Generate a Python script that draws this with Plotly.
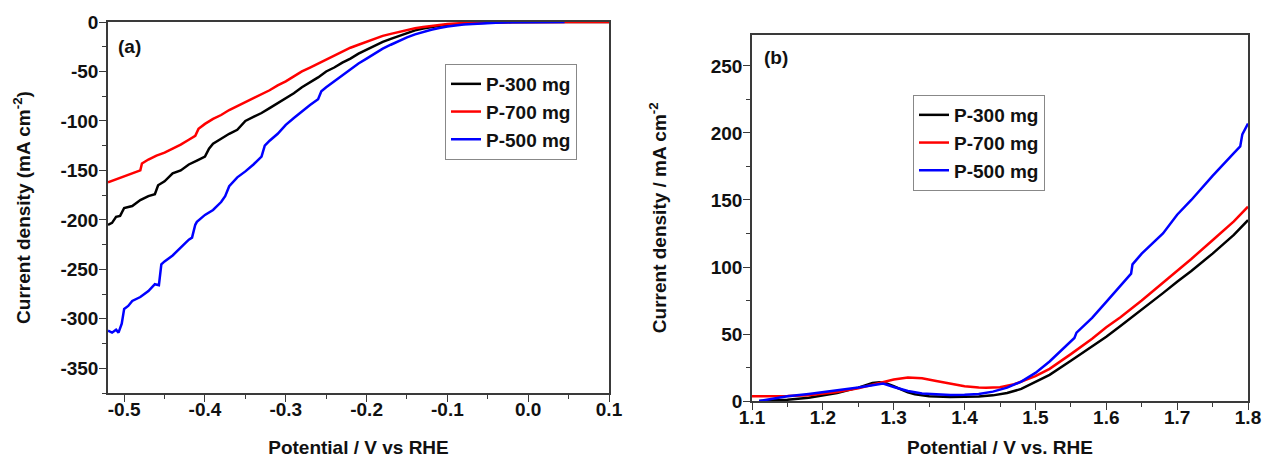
import plotly.graph_objects as go

# ---- Panel (a) data: HER polarization curves ----
a_x_300 = [-0.52, -0.515, -0.51, -0.505, -0.50, -0.49, -0.48, -0.47, -0.462, -0.458, -0.45, -0.44, -0.43, -0.42,
           -0.41, -0.40, -0.395, -0.39, -0.38, -0.37, -0.36, -0.355, -0.35, -0.34, -0.33, -0.32, -0.31, -0.30,
           -0.29, -0.28, -0.27, -0.26, -0.25, -0.24, -0.23, -0.22, -0.21, -0.20, -0.19, -0.18, -0.17, -0.16,
           -0.15, -0.14, -0.13, -0.12, -0.11, -0.10, -0.08, -0.06, -0.04, -0.02, 0.0, 0.05, 0.1]
a_y_300 = [-205, -203, -197, -196, -188, -186, -180, -176, -174, -165, -161, -153, -150, -144,
           -140, -136, -128, -123, -118, -113, -109, -104, -100, -96, -92, -87, -82, -77,
           -72, -66, -61, -56, -50, -46, -41, -37, -32, -28, -24, -20, -17, -14,
           -11, -8.5, -6.5, -5, -3.8, -2.8, -1.6, -0.9, -0.4, -0.15, 0, 0, 0]

a_x_700 = [-0.52, -0.51, -0.50, -0.49, -0.48, -0.478, -0.47, -0.46, -0.45, -0.44, -0.43, -0.42, -0.412,
           -0.408, -0.40, -0.39, -0.38, -0.37, -0.36, -0.35, -0.34, -0.33, -0.32, -0.31, -0.30, -0.29,
           -0.28, -0.27, -0.26, -0.25, -0.24, -0.23, -0.22, -0.21, -0.20, -0.19, -0.18, -0.17, -0.16,
           -0.15, -0.14, -0.13, -0.12, -0.11, -0.10, -0.08, -0.06, -0.04, -0.02, 0.0, 0.05, 0.1]
a_y_700 = [-162, -159, -156, -153, -150, -143, -139, -135, -132, -128, -124, -119, -115,
           -108, -103, -98, -94, -89, -85, -81, -77, -73, -69, -64, -60, -55,
           -50, -46, -42, -38, -34, -30, -26, -23, -20, -17, -14, -12, -10,
           -8, -6.3, -5, -3.8, -2.8, -2, -1, -0.5, -0.2, -0.05, 0, 0, 0]

a_x_500 = [-0.52, -0.515, -0.51, -0.507, -0.503, -0.50, -0.495, -0.49, -0.48, -0.47, -0.462, -0.457, -0.454,
           -0.45, -0.44, -0.43, -0.42, -0.416, -0.412, -0.41, -0.40, -0.39, -0.38, -0.375, -0.37, -0.36,
           -0.35, -0.34, -0.33, -0.326, -0.32, -0.31, -0.30, -0.29, -0.28, -0.27, -0.26, -0.256, -0.25,
           -0.24, -0.23, -0.22, -0.21, -0.20, -0.19, -0.18, -0.17, -0.16, -0.15, -0.14, -0.13, -0.12,
           -0.11, -0.10, -0.08, -0.06, -0.04, -0.02, 0.0, 0.02, 0.045]
a_y_500 = [-312, -314, -311, -314, -305, -290, -287, -282, -278, -272, -265, -266, -245,
           -242, -236, -228, -220, -218, -205, -202, -195, -190, -182, -176, -166, -157,
           -151, -144, -136, -125, -120, -113, -104, -97, -90, -84, -78, -70, -66,
           -60, -54, -48, -42, -37, -32, -27, -23, -19, -15.5, -12.5, -10, -7.8,
           -6, -4.6, -2.6, -1.4, -0.7, -0.3, -0.1, 0, 0]

a_xticks = [-0.5, -0.4, -0.3, -0.2, -0.1, 0.0, 0.1]
a_xtick_labels = ["-0.5", "-0.4", "-0.3", "-0.2", "-0.1", "0.0", "0.1"]
a_yticks = [0, -50, -100, -150, -200, -250, -300, -350]
a_ytick_labels = ["0", "-50", "-100", "-150", "-200", "-250", "-300", "-350"]

# ---- Panel (b) data: OER polarization curves ----
b_x_300 = [1.11, 1.13, 1.15, 1.18, 1.20, 1.22, 1.25, 1.27, 1.28, 1.29, 1.30, 1.31, 1.32, 1.33, 1.35, 1.38,
           1.40, 1.42, 1.44, 1.46, 1.48, 1.50, 1.52, 1.55, 1.58, 1.60, 1.62, 1.65, 1.68, 1.70, 1.72,
           1.75, 1.78, 1.80]
b_y_300 = [0, 0.3, 1, 2.5, 4, 6, 10, 13.5, 14, 13, 11, 8.5, 6.5, 5, 3.5, 3,
           3, 3.3, 4.2, 6, 9, 14, 19.5, 30, 40.5, 48, 56, 68, 80.5, 89, 97,
           110, 124, 135]

b_x_700 = [1.10, 1.13, 1.15, 1.18, 1.20, 1.22, 1.25, 1.28, 1.30, 1.32, 1.34, 1.36, 1.38, 1.40, 1.42, 1.43,
           1.45, 1.47, 1.50, 1.52, 1.55, 1.58, 1.60, 1.62, 1.65, 1.68, 1.70, 1.72, 1.75, 1.78, 1.80]
b_y_700 = [3.5, 3.5, 3.7, 4.3, 5.3, 6.8, 9.5, 13.5, 16, 17.5, 17, 15, 12.8, 11, 10, 9.8,
           10.3, 12.5, 18.5, 24, 35, 46.5, 55, 62.5, 75, 88, 97, 106, 120, 134, 145]

b_x_500 = [1.11, 1.13, 1.15, 1.18, 1.20, 1.22, 1.25, 1.27, 1.285, 1.30, 1.32, 1.34, 1.36, 1.38, 1.40, 1.42,
           1.44, 1.46, 1.48, 1.50, 1.52, 1.54, 1.555, 1.558, 1.58, 1.60, 1.62, 1.635, 1.637, 1.65, 1.68,
           1.70, 1.72, 1.75, 1.78, 1.789, 1.792, 1.80]
b_y_500 = [0, 1.8, 3.5, 5.3, 6.5, 8, 10, 11.8, 13, 10.5, 7.5, 5.6, 4.8, 4.5, 4.6, 5.3,
           7, 10, 14.5, 21, 29.5, 39.5, 47, 51, 62, 74, 86, 95, 102, 110, 125,
           139, 150, 168, 185, 190, 199, 207]

b_xticks = [1.1, 1.2, 1.3, 1.4, 1.5, 1.6, 1.7, 1.8]
b_yticks = [0, 50, 100, 150, 200, 250]

series_names = ["P-300 mg", "P-700 mg", "P-500 mg"]
colors = ["#000000", "#ff0000", "#0000ff"]

W, H = 1264, 461
FONT = "Liberation Sans"
AXC = "#3a3a3a"
FS = 19

fig = go.Figure()

a_sets = [(a_x_300, a_y_300), (a_x_700, a_y_700), (a_x_500, a_y_500)]
b_sets = [(b_x_300, b_y_300), (b_x_700, b_y_700), (b_x_500, b_y_500)]

for (xs, ys), name, c in zip(a_sets, series_names, colors):
    fig.add_trace(go.Scatter(x=xs, y=ys, mode="lines", name=name, legend="legend",
                             line=dict(color=c, width=2.5), xaxis="x", yaxis="y"))
for (xs, ys), name, c in zip(b_sets, series_names, colors):
    fig.add_trace(go.Scatter(x=xs, y=ys, mode="lines", name=name, legend="legend2",
                             line=dict(color=c, width=2.5), xaxis="x2", yaxis="y2"))


def px_x(p):
    return p / W


def px_y(p):
    return 1 - p / H


tickfont = dict(family=FONT, size=FS, color="#111", weight="bold")
titlefont = dict(family=FONT, size=FS, color="#111")


def axis(minor_dtick, minor_tick0):
    return dict(showline=True, linecolor=AXC, linewidth=1.5, mirror=True, ticks="outside",
                ticklen=7, tickwidth=1.3, tickcolor=AXC, showgrid=False, zeroline=False,
                tickfont=tickfont, automargin=False,
                minor=dict(ticks="outside", ticklen=4, tickwidth=1.2, tickcolor=AXC,
                           showgrid=False, dtick=minor_dtick, tick0=minor_tick0))


legend_style = dict(xanchor="left", yanchor="top", bordercolor="#888", borderwidth=1,
                    bgcolor="white", font=dict(family=FONT, size=FS, color="#111", weight="bold"),
                    tracegroupgap=0, itemwidth=30)

fig.update_layout(
    width=W, height=H,
    margin=dict(l=0, r=0, t=0, b=0),
    paper_bgcolor="white", plot_bgcolor="white",
    showlegend=True,
    xaxis=dict(domain=[px_x(108), px_x(609)], range=[-0.52, 0.1], anchor="y",
               tickvals=a_xticks, ticktext=a_xtick_labels, ticklabelstandoff=-9,
               title=dict(text="<b>Potential / V vs RHE</b>", font=titlefont, standoff=22),
               **axis(0.05, 0)),
    yaxis=dict(domain=[px_y(393), px_y(22)], range=[-375, 0], anchor="x",
               tickvals=a_yticks, ticktext=a_ytick_labels, ticklabelstandoff=-3,
               title=dict(text="<b>Current density (mA cm<sup>-2</sup>)</b>", font=titlefont, standoff=25),
               **axis(25, 0)),
    xaxis2=dict(domain=[px_x(752), px_x(1248)], range=[1.1, 1.8], anchor="y2",
                tickvals=b_xticks, ticklabelstandoff=-9,
                title=dict(text="<b>Potential / V vs. RHE</b>", font=titlefont, standoff=14),
                **axis(0.05, 1.1)),
    yaxis2=dict(domain=[px_y(401), px_y(34.5)], range=[0, 273.5], anchor="x2",
                tickvals=b_yticks, ticklabelstandoff=-3,
                title=dict(text="<b>Current density / mA cm<sup>-2</sup></b>", font=titlefont, standoff=39),
                **axis(25, 0)),
    legend=dict(x=px_x(445), y=px_y(64), **legend_style),
    legend2=dict(x=px_x(913), y=px_y(95), **legend_style),
    annotations=[
        dict(text="<b>(a)</b>", x=px_x(116), y=px_y(47), xref="paper", yref="paper",
             xanchor="left", yanchor="middle", showarrow=False,
             font=dict(family=FONT, size=FS, color="#111")),
        dict(text="<b>(b)</b>", x=px_x(762), y=px_y(58), xref="paper", yref="paper",
             xanchor="left", yanchor="middle", showarrow=False,
             font=dict(family=FONT, size=FS, color="#111")),
    ],
)

fig.write_html("out.html", config={"displayModeBar": False},
               post_script="document.body.style.margin='0';")
